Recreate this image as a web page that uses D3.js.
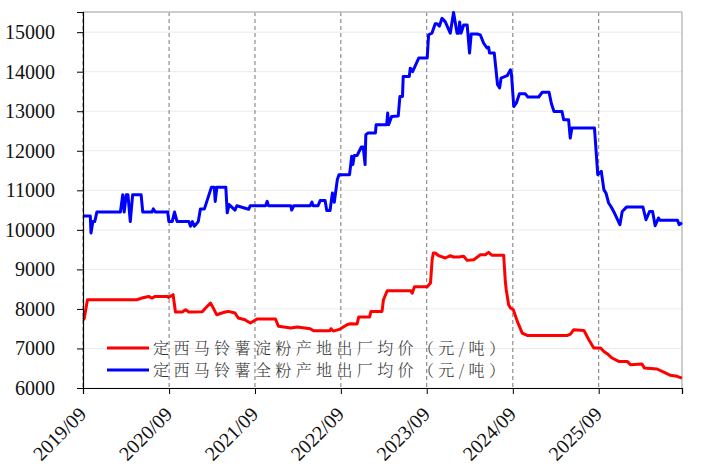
<!DOCTYPE html>
<html><head><meta charset="utf-8">
<script src="https://cdn.jsdelivr.net/npm/d3@7"></script>
<style>body{margin:0;background:#fff}</style>
</head><body><svg id="c" width="709" height="473"></svg>
<script>
const seriesNames = ["定西马铃薯淀粉产地出厂均价（元/吨）","定西马铃薯全粉产地出厂均价（元/吨）"];
const seriesColors = ["#ff0000","#0000ff"];
const yTicks = [6000,7000,8000,9000,10000,11000,12000,13000,14000,15000];
const xTicks = ["2019-09-01","2020-09-01","2021-09-01","2022-09-01","2023-09-01","2024-09-01","2025-09-01"];
const xDomain = ["2019-09-01","2026-08-21"];
const yDomain = [6000,15510];

const starchDates = ["2019-09-01","2019-09-06","2019-09-20","2020-04-17","2020-05-08","2020-06-06","2020-06-20","2020-07-04","2020-08-26","2020-08-29","2020-09-18","2020-09-28","2020-10-27","2020-11-10","2020-11-24","2021-01-20","2021-02-03","2021-02-24","2021-03-08","2021-03-22","2021-04-27","2021-05-11","2021-06-08","2021-06-22","2021-07-20","2021-08-12","2021-09-10","2021-11-27","2021-12-10","2022-01-31","2022-02-28","2022-04-24","2022-05-08","2022-07-17","2022-07-21","2022-07-31","2022-08-29","2022-09-27","2022-10-11","2022-11-09","2022-11-16","2023-01-01","2023-01-07","2023-02-23","2023-03-01","2023-03-17","2023-06-25","2023-07-01","2023-07-11","2023-09-03","2023-09-17","2023-09-24","2023-09-29","2023-10-07","2023-10-21","2023-11-19","2023-12-10","2023-12-24","2024-01-15","2024-02-05","2024-02-20","2024-03-19","2024-04-16","2024-05-07","2024-05-21","2024-06-05","2024-07-24","2024-07-31","2024-08-04","2024-08-14","2024-08-22","2024-09-03","2024-09-20","2024-10-11","2024-11-01","2025-04-21","2025-05-04","2025-05-18","2025-06-30","2025-07-21","2025-08-11","2025-09-09","2025-09-23","2025-10-07","2025-10-28","2025-11-25","2025-12-31","2026-01-14","2026-03-04","2026-03-14","2026-05-07","2026-06-11","2026-07-03","2026-07-31","2026-08-21"];
const starchValues = [7727,7750,8233,8233,8275,8316,8275,8316,8316,8290,8360,7922,7922,7980,7920,7930,8023,8150,8020,7854,7922,7937,7897,7770,7727,7644,7745,7745,7560,7517,7543,7500,7450,7450,7500,7440,7490,7600,7625,7620,7795,7795,7937,7937,8233,8460,8460,8400,8560,8560,8655,9245,9414,9414,9350,9288,9346,9313,9313,9330,9228,9245,9370,9370,9431,9355,9355,8700,8485,8107,8023,7980,7685,7390,7330,7330,7365,7475,7457,7220,7010,7010,6925,6867,6758,6673,6673,6590,6607,6506,6480,6380,6320,6295,6250];

const flourDates = ["2019-09-01","2019-10-02","2019-10-05","2019-10-13","2019-10-21","2019-10-30","2020-02-07","2020-02-17","2020-02-23","2020-03-03","2020-03-10","2020-03-20","2020-03-30","2020-05-05","2020-05-12","2020-06-20","2020-06-26","2020-07-04","2020-08-26","2020-08-31","2020-09-14","2020-09-24","2020-10-05","2020-11-24","2020-12-01","2020-12-09","2020-12-17","2020-12-26","2021-01-03","2021-01-12","2021-01-29","2021-02-28","2021-03-12","2021-03-16","2021-03-23","2021-04-30","2021-05-06","2021-05-14","2021-06-08","2021-06-16","2021-08-05","2021-08-12","2021-10-16","2021-10-23","2021-10-28","2022-01-31","2022-02-04","2022-02-13","2022-04-24","2022-05-01","2022-05-06","2022-05-27","2022-06-05","2022-06-26","2022-07-03","2022-07-17","2022-07-27","2022-08-04","2022-08-17","2022-08-24","2022-10-08","2022-10-17","2022-10-22","2022-10-28","2022-11-09","2022-11-27","2022-12-05","2022-12-13","2022-12-16","2022-12-25","2023-01-26","2023-01-29","2023-03-15","2023-03-19","2023-03-23","2023-04-05","2023-05-03","2023-05-10","2023-05-21","2023-05-24","2023-06-19","2023-06-23","2023-07-03","2023-07-29","2023-09-03","2023-09-09","2023-09-23","2023-10-07","2023-10-14","2023-10-25","2023-11-05","2023-11-19","2023-12-10","2023-12-24","2024-01-08","2024-01-15","2024-01-19","2024-01-25","2024-02-05","2024-02-20","2024-03-01","2024-03-08","2024-04-02","2024-04-16","2024-04-30","2024-05-14","2024-05-21","2024-05-25","2024-06-14","2024-06-28","2024-07-07","2024-07-13","2024-08-08","2024-08-22","2024-08-26","2024-09-05","2024-09-16","2024-09-29","2024-10-24","2024-11-04","2024-12-20","2025-01-04","2025-02-02","2025-02-12","2025-02-23","2025-03-29","2025-04-05","2025-04-26","2025-05-03","2025-05-10","2025-08-14","2025-08-28","2025-09-12","2025-09-23","2025-10-02","2025-10-13","2025-10-23","2025-11-07","2025-11-30","2025-12-10","2025-12-28","2026-03-08","2026-03-21","2026-04-05","2026-04-18","2026-04-29","2026-05-13","2026-05-20","2026-08-02","2026-08-09","2026-08-21"];
const flourValues = [10350,10350,9920,10210,10210,10450,10450,10890,10450,10890,10890,10210,10890,10890,10450,10450,10530,10450,10450,10210,10210,10450,10210,10210,10090,10210,10090,10150,10210,10530,10530,11080,11080,10720,11080,11080,10430,10640,10500,10610,10520,10610,10610,10720,10610,10610,10500,10610,10610,10700,10610,10610,10740,10740,10490,10490,10930,10700,11270,11395,11395,11860,11650,11880,11880,12095,12095,11650,12400,12450,12450,12660,12660,12955,12660,12870,12880,13375,13375,13880,13880,14090,14000,14345,14345,14935,14975,15215,15215,15155,15350,15260,14975,15495,14975,14975,15260,14975,15180,15180,14470,14955,14955,14930,14720,14600,14620,14470,14470,13670,13590,13840,13900,14050,13950,13120,13210,13440,13440,13360,13360,13480,13480,13190,12995,12995,12785,12785,12320,12575,12575,11395,11480,11015,10930,10680,10590,10425,10130,10465,10575,10575,10255,10465,10465,10105,10300,10240,10240,10130,10180];

const W = 709, H = 473;
const m = {l:83, t:12, r:27, b:85};
const pw = W - m.l - m.r, ph = H - m.t - m.b;
const parse = d3.timeParse("%Y-%m-%d");
const fmt = d3.timeFormat("%Y/%m");
const x = d3.scaleTime().domain(xDomain.map(parse)).range([0, pw]);
const y = d3.scaleLinear().domain(yDomain).range([ph, 0]);
const SERIF = '"Liberation Serif","Times New Roman",serif';

const svg = d3.select("#c");
const g = svg.append("g").attr("transform", `translate(${m.l},${m.t})`);

// horizontal grid
g.append("g").selectAll("line").data(yTicks).join("line")
  .attr("x1",0).attr("x2",pw).attr("y1",d=>y(d)).attr("y2",d=>y(d))
  .attr("stroke","#ebebeb").attr("stroke-width",1);
// vertical dashed
g.append("g").selectAll("line").data(xTicks.map(parse)).join("line")
  .attr("x1",d=>x(d)).attr("x2",d=>x(d)).attr("y1",0).attr("y2",ph)
  .attr("stroke","#777").attr("stroke-width",1).attr("stroke-dasharray","4,3");

// top & right spines
g.append("line").attr("x1",0).attr("x2",pw).attr("y1",0).attr("y2",0).attr("stroke","#bdbdbd").attr("stroke-width",1.5);
g.append("line").attr("x1",pw).attr("x2",pw).attr("y1",0).attr("y2",ph).attr("stroke","#bdbdbd").attr("stroke-width",1.5);

// lines
const line = d3.line().x(d=>x(d[0])).y(d=>y(d[1]));
const sets = [
  d3.zip(flourDates.map(parse), flourValues),
  d3.zip(starchDates.map(parse), starchValues)
];
const cols = [seriesColors[1], seriesColors[0]];
sets.forEach((s,i)=>{
  g.append("path").datum(s).attr("d",line).attr("fill","none")
   .attr("stroke",cols[i]).attr("stroke-width",3).attr("stroke-linejoin","round");
});

// axes (lines + ticks via d3.axis, labels drawn as own texts)
const ya = g.append("g").call(d3.axisLeft(y).tickValues(yTicks).tickSize(6).tickFormat(""));
ya.select(".domain").attr("stroke","#000").attr("stroke-width",1.2);
g.append("g").selectAll("text").data(yTicks).join("text")
  .attr("x",-28).attr("y",d=>y(d)).attr("dy","0.34em").attr("text-anchor","end")
  .style("font-family",SERIF).style("font-size","20px").attr("fill","#111")
  .text(d3.format("d"));

const xa = g.append("g").attr("transform",`translate(0,${ph})`)
  .call(d3.axisBottom(x).tickValues(xTicks.map(parse)).tickSize(6).tickFormat(""));
xa.select(".domain").attr("stroke","#000").attr("stroke-width",1.2);
g.append("g").selectAll("text").data(xTicks.map(parse)).join("text")
  .attr("text-anchor","end")
  .attr("transform",d=>`translate(${x(d)+4.5},${ph+27.5}) rotate(-45)`)
  .style("font-family",SERIF).style("font-size","20px").attr("fill","#111")
  .text(fmt);

// legend
const leg = g.append("g");
seriesNames.forEach((n,i)=>{
  const ly = 336 + i*22;
  leg.append("line").attr("x1",24).attr("x2",66).attr("y1",ly).attr("y2",ly)
    .attr("stroke",seriesColors[i]).attr("stroke-width",3);
  leg.append("text").attr("x",70).attr("y",ly).attr("dy","0.36em")
    .style("font-family",'"Noto Serif CJK SC","Noto Sans CJK SC",serif').style("font-weight","300")
    .style("font-size","16px").attr("fill","#333")
    .attr("textLength",352).attr("lengthAdjust","spacing").text(n);
});
</script></body></html>
